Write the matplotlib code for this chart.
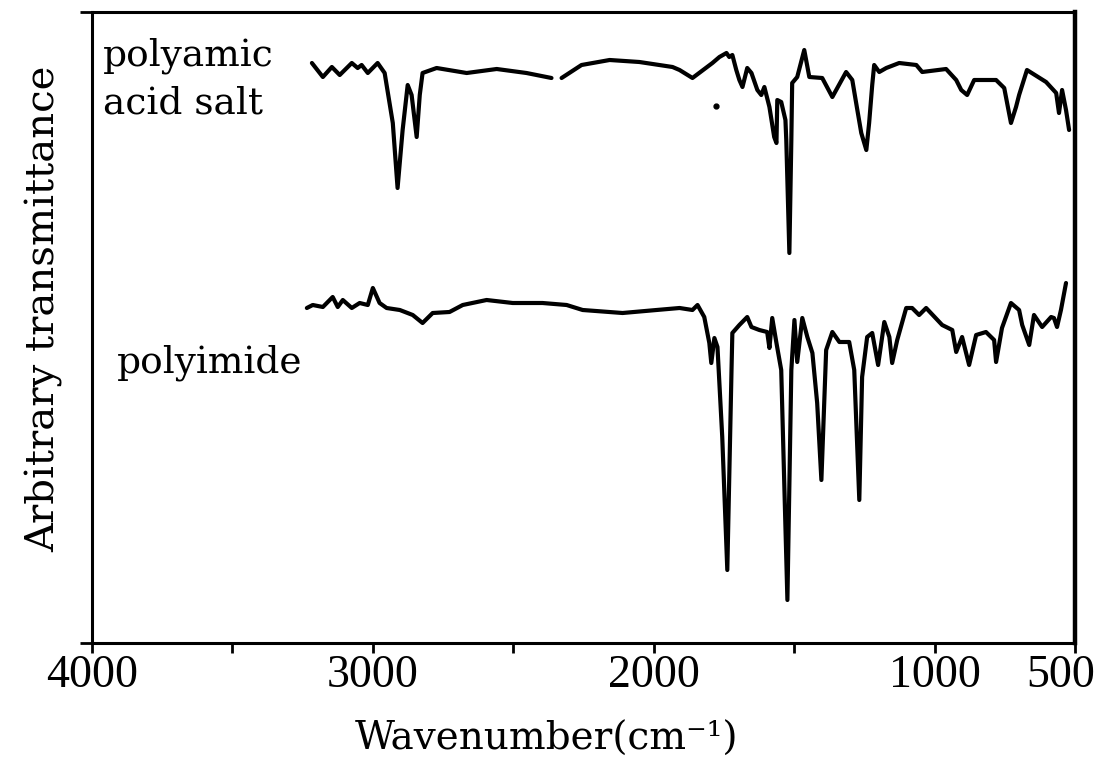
import numpy as np
import matplotlib
matplotlib.use("Agg")
import matplotlib.pyplot as plt
from matplotlib.transforms import ScaledTranslation

# ---- data (wavenumber in cm^-1, arbitrary transmittance units) ----
salt_wn = [3217, 3178, 3146, 3118, 3075, 3054, 3040, 3018, 2983, 2958, 2929, 2912,
           2894, 2876, 2862, 2844, 2833, 2823, 2773, 2666, 2559, 2453, 2364, np.nan,
           2328, 2257, 2157, 2051, 1933, 1908, 1862, 1791, 1766, 1741, 1731, 1720,
           1706, 1695, 1684, 1667, 1652, 1631, 1617, 1606, 1588, 1571, 1563, 1560,
           1546, 1531, 1528, 1517, 1510, 1507, 1489, 1464, 1446, 1400, 1364, 1315,
           1293, 1275, 1261, 1243, 1233, 1222, 1215, 1197, 1172, 1126, 1065, 1044,
           959, 923, 905, 884, 859, 781, 752, 728, 710, 699, 671, 603, 567, 557,
           546, 532, 521]
salt_T = [580, 566, 576, 568, 580, 575, 578, 570, 580, 570, 520, 455,
          513, 558, 548, 506, 548, 570, 575, 570, 574, 570, 565, np.nan,
          565, 578, 583, 581, 576, 573, 565, 580, 586, 590, 586, 588,
          573, 563, 556, 575, 570, 553, 548, 556, 536, 506, 500, 543,
          541, 523, 503, 390, 503, 560, 566, 593, 566, 565, 546, 571,
          563, 533, 510, 493, 520, 558, 578, 571, 575, 580, 578, 571,
          574, 563, 553, 548, 563, 563, 555, 520, 536, 548, 573, 561, 550, 530,
          553, 533, 513]

pi_wn = [3235, 3214, 3178, 3143, 3125, 3107, 3075, 3047, 3018, 3000, 2976, 2951,
         2904, 2858, 2823, 2787, 2727, 2680, 2595, 2502, 2396, 2310, 2253, 2111,
         1990, 1908, 1862, 1844, 1820, 1802, 1795, 1784, 1773, 1756, 1738, 1723,
         1720, 1695, 1667, 1652, 1624, 1596, 1588, 1578, 1563, 1546, 1524, 1510,
         1499, 1489, 1471, 1453, 1435, 1418, 1403, 1386, 1364, 1339, 1304, 1286,
         1268, 1258, 1240, 1222, 1201, 1179, 1161, 1151, 1133, 1101, 1080, 1055,
         1030, 973, 937, 923, 902, 877, 852, 817, 788, 781, 760, 728, 699, 688,
         663, 646, 617, 585, 575, 564, 550, 532]
pi_T = [335, 338, 336, 346, 336, 343, 335, 340, 338, 355, 340, 335,
        333, 328, 320, 330, 331, 338, 343, 340, 340, 338, 333, 330,
        333, 335, 333, 338, 326, 300, 280, 305, 296, 206, 73, 273,
        310, 318, 326, 316, 313, 311, 295, 325, 300, 273, 43, 273,
        323, 281, 325, 306, 290, 240, 163, 293, 311, 301, 301, 273,
        143, 266, 306, 310, 278, 321, 306, 280, 303, 335, 335, 328,
        335, 318, 313, 291, 306, 278, 308, 311, 303, 281, 315, 340, 333, 318,
        298, 328, 316, 326, 325, 316, 333, 360]

speck_wn = [1780]
speck_T = [537]

tick_values = [4000, 3500, 3000, 2500, 2000, 1500, 1000, 500]
tick_labels = ['4000', '', '3000', '', '2000', '', '1000', '500']

serif = ['DejaVu Serif']

W, H = 1118, 783
fig = plt.figure(figsize=(W / 100, H / 100), dpi=100)
ax = fig.add_axes([92 / W, 1 - 643 / H, (1075 - 92) / W, (643 - 12) / H])

ax.plot(salt_wn, salt_T, color='black', lw=3.0, solid_joinstyle='round', solid_capstyle='round')
ax.plot(pi_wn, pi_T, color='black', lw=3.0, solid_joinstyle='round', solid_capstyle='round')
ax.plot(speck_wn, speck_T, 'o', color='black', ms=3.5)

ax.set_xlim(4000, 500)
ax.set_ylim(0, 631)

ax.set_xticks(tick_values)
ax.set_xticklabels(tick_labels, fontfamily='Liberation Serif', fontsize=33)
ax.tick_params(axis='x', direction='out', length=7, width=2, pad=1, color='black')
ax.set_yticks([0, 631])
ax.set_yticklabels([])
ax.tick_params(axis='y', direction='out', length=9, width=2)

for s in ['left', 'bottom', 'top']:
    ax.spines[s].set_linewidth(2.2)
ax.spines['right'].set_linewidth(3.2)

# shift the "500" label slightly left as in the original
lab = ax.get_xticklabels()[-1]
lab.set_transform(lab.get_transform() + ScaledTranslation(-14 / 100, 0, fig.dpi_scale_trans))

fig.text(103 / W, 1 - 113 / H, 'polyamic\nacid salt', family=serif, fontsize=27,
         ha='left', va='baseline', linespacing=1.4)
fig.text(117 / W, 1 - 373 / H, 'polyimide', family=serif, fontsize=27,
         ha='left', va='baseline')

fig.text(44 / W, 1 - 309 / H, 'Arbitrary transmittance', family=serif, fontsize=29,
         rotation=90, ha='center', va='center')
fig.text(547 / W, 1 - 750 / H, 'Wavenumber(cm\u207b\u00b9)', family=serif, fontsize=28,
         ha='center', va='baseline')

fig.savefig('out.png', dpi=100, facecolor='white')
